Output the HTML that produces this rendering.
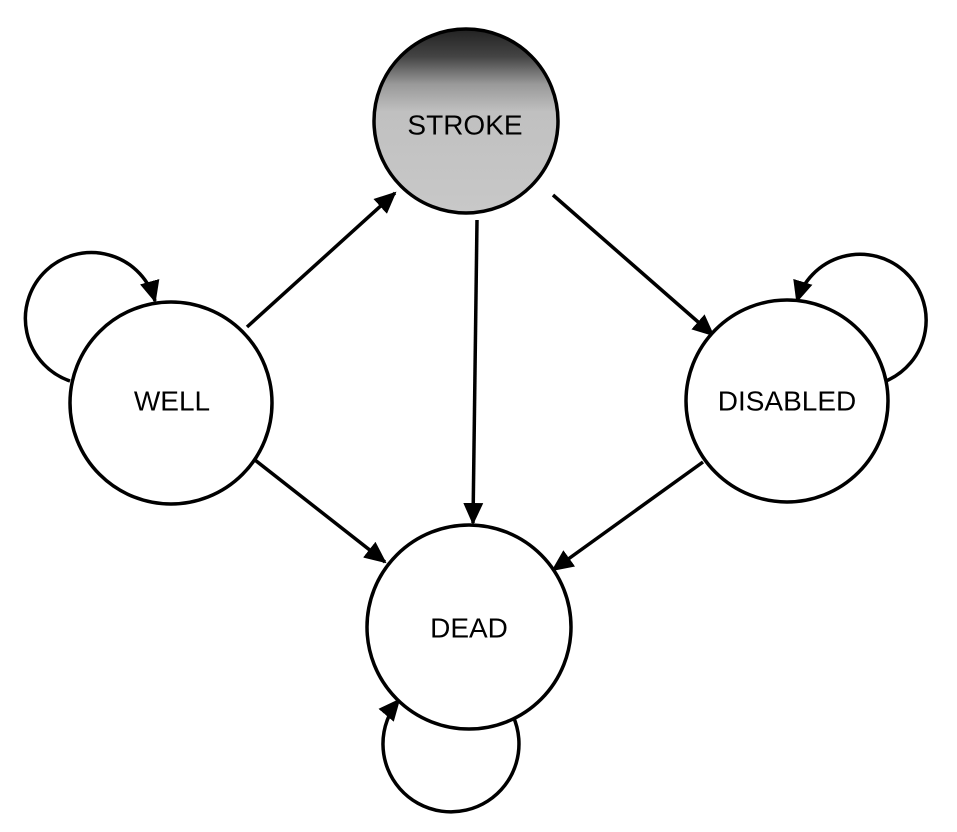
<!DOCTYPE html>
<html><head><style>
html,body{margin:0;padding:0;background:#fff;}
svg{display:block}
text{font-family:"Liberation Sans",sans-serif;font-size:28px;fill:#000;text-anchor:middle;dominant-baseline:central}
</style></head><body>
<svg width="957" height="832" viewBox="0 0 957 832" xmlns="http://www.w3.org/2000/svg">
<defs>
<linearGradient id="g" x1="0" y1="0" x2="0" y2="1">
<stop offset="0" stop-color="#222"/>
<stop offset="0.15" stop-color="#444"/>
<stop offset="0.3" stop-color="#999"/>
<stop offset="0.45" stop-color="#c0c0c0"/>
<stop offset="1" stop-color="#c8c8c8"/>
</linearGradient>
<marker id="b" markerWidth="22" markerHeight="20" refX="20" refY="10" orient="auto" markerUnits="userSpaceOnUse" viewBox="0 0 22 20">
<path d="M0,0 L22,10 L0,20 z" fill="#000"/>
</marker>
</defs>
<g fill="none" stroke="#000" stroke-width="3.5">
<path d="M70,381 A66,66 0 1 1 155,301" marker-end="url(#b)"/>
<path d="M886,381 A66,66 0 1 0 797,301" marker-end="url(#b)"/>
<path d="M513,716 A68,68 0 1 1 399,700" marker-end="url(#b)"/>
<line x1="247" y1="327" x2="395" y2="193" marker-end="url(#b)"/>
<line x1="477" y1="220" x2="473" y2="523" marker-end="url(#b)"/>
<line x1="553" y1="195" x2="713" y2="335" marker-end="url(#b)"/>
<line x1="255" y1="460" x2="385" y2="562" marker-end="url(#b)"/>
<line x1="703" y1="462" x2="553" y2="570" marker-end="url(#b)"/>
</g>
<g stroke="#000" stroke-width="3.5">
<circle cx="466" cy="121" r="92" fill="url(#g)"/>
<circle cx="171" cy="403" r="101" fill="#fff"/>
<circle cx="787" cy="401" r="101" fill="#fff"/>
<circle cx="469" cy="627" r="102" fill="#fff"/>
</g>
<text x="465" y="125">STROKE</text>
<text x="172" y="401">WELL</text>
<text x="787" y="401">DISABLED</text>
<text x="469" y="628">DEAD</text>
</svg>
</body></html>
